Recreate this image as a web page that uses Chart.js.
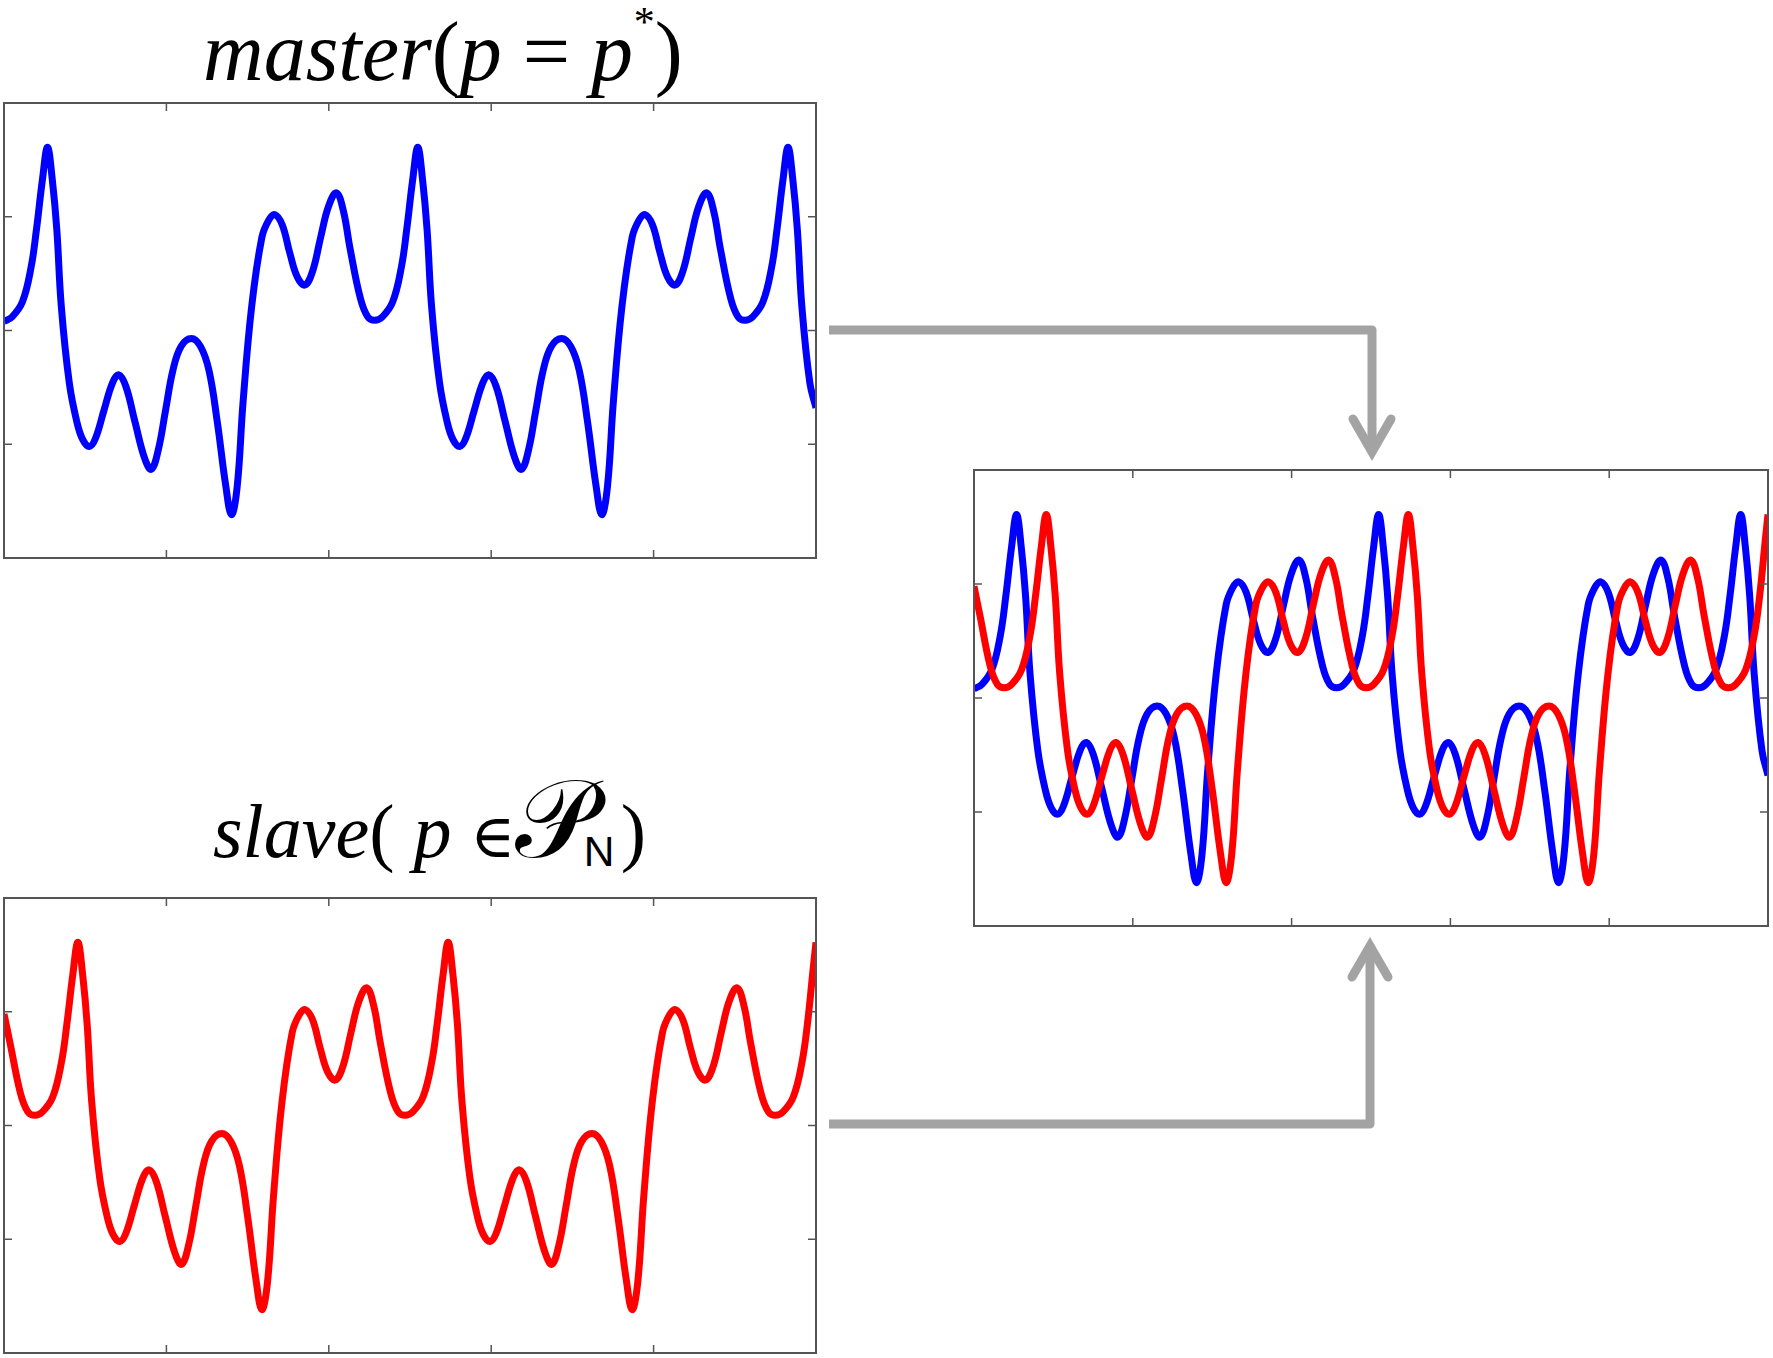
<!DOCTYPE html>
<html>
<head>
<meta charset="utf-8">
<script src="https://cdn.jsdelivr.net/npm/chart.js@4.4.0/dist/chart.umd.min.js"></script>
<style>
  html, body { margin: 0; padding: 0; background: #fff; }
  #page { position: relative; width: 1773px; height: 1358px; overflow: hidden; }
  canvas { position: absolute; }
  .title {
    position: absolute; white-space: nowrap; line-height: 1;
    font-family: "Liberation Serif", "DejaVu Serif", serif; font-style: italic; color: #000;
  }
  .title .par { font-style: normal; }
  .title .eq { font-style: normal; }
  .title sup { font-size: 0.5em; line-height: 0; position: relative; top: -1.05em; vertical-align: baseline; margin-left: 0.02em; font-style: normal; }
  .title .up { font-style: normal; font-family: "DejaVu Serif", serif; font-size: 0.8em; }
  .title .scr { font-style: normal; font-family: "DejaVu Sans", "DejaVu Serif", serif; font-size: 1.45em; line-height: 0; }
  .title .sub { font-style: normal; font-family: "Liberation Sans", sans-serif; font-size: 0.56em; line-height: 0; position: relative; top: 0.2em; margin-left: -0.25em; }
  .title .close { margin-left: 0.08em; }
  #arrows { position: absolute; left: 0; top: 0; }
</style>
</head>
<body>
<div id="page">
  <div class="title" style="left:203px; top:10px; font-size:84px;">master<span class="par">(</span>p<span class="eq"> = </span>p<sup>*</sup><span class="par">)</span></div>
  <div class="title" style="left:213px; top:793px; font-size:76px;">slave<span class="par">(</span> p <span class="up">∈</span><span class="scr">𝒫</span><span class="sub">N</span><span class="par close">)</span></div>

  <svg id="arrows" width="1773" height="1358">
    <g fill="none" stroke="#a3a3a3" stroke-width="9">
      <path d="M829 330 H1372 V450" stroke-linejoin="round"/>
      <path d="M1353 419 L1372 452 L1391 419" stroke-linecap="round" stroke-linejoin="miter"/>
      <path d="M829 1124 H1370 V948" stroke-linejoin="round"/>
      <path d="M1352 977 L1370 946 L1388 977" stroke-linecap="round" stroke-linejoin="miter"/>
    </g>
  </svg>

  <canvas id="chart-master" width="824" height="467" style="left:-2px; top:97px;"></canvas>
  <canvas id="chart-slave" width="824" height="467" style="left:-2px; top:892px;"></canvas>
  <canvas id="chart-sync" width="806" height="468" style="left:968px; top:464px;"></canvas>
</div>

<script>
// master signal (blue)
const masterX = [
  0.000, 0.050, 0.113, 0.166, 0.200, 0.237, 0.268,
  0.297, 0.325, 0.353, 0.402, 0.448, 0.485, 0.526, 0.563, 0.616, 0.668,
  0.706, 0.750, 0.806, 0.865, 0.907, 0.950, 0.995, 1.040, 1.090, 1.154,
  1.210, 1.262, 1.313, 1.366, 1.401, 1.436, 1.472, 1.525, 1.588, 1.630,
  1.666, 1.713, 1.760, 1.806, 1.853, 1.900, 1.950, 1.998, 2.047, 2.090,
  2.131, 2.195, 2.240, 2.283, 2.330, 2.393, 2.446, 2.480, 2.517, 2.548,
  2.577, 2.605, 2.633, 2.682, 2.728, 2.765, 2.806, 2.843, 2.896, 2.948,
  2.986, 3.030, 3.086, 3.145, 3.187, 3.230, 3.275, 3.320, 3.370, 3.434,
  3.490, 3.542, 3.593, 3.646, 3.681, 3.716, 3.752, 3.805, 3.868, 3.910,
  3.946, 3.993, 4.040, 4.086, 4.133, 4.180, 4.230, 4.278, 4.327, 4.370,
  4.411, 4.475, 4.520, 4.563, 4.610, 4.673, 4.726, 4.760, 4.797, 4.828,
  4.857, 4.885, 4.913, 4.962, 5.000
];
const masterY = [
  0.08, 0.12, 0.25, 0.55, 0.89, 1.33, 1.61,
  1.33, 0.89, 0.21, -0.46, -0.80, -0.96, -1.02, -0.95, -0.70, -0.46,
  -0.39, -0.49, -0.80, -1.12, -1.22, -1.05, -0.70, -0.35, -0.14, -0.07,
  -0.14, -0.35, -0.80, -1.37, -1.62, -1.37, -0.63, 0.21, 0.82, 0.97,
  1.02, 0.93, 0.68, 0.47, 0.40, 0.52, 0.82, 1.09, 1.21, 1.05,
  0.72, 0.28, 0.12, 0.09, 0.12, 0.25, 0.55, 0.89, 1.33, 1.61,
  1.33, 0.89, 0.21, -0.46, -0.80, -0.96, -1.02, -0.95, -0.70, -0.46,
  -0.39, -0.49, -0.80, -1.12, -1.22, -1.05, -0.70, -0.35, -0.14, -0.07,
  -0.14, -0.35, -0.80, -1.37, -1.62, -1.37, -0.63, 0.21, 0.82, 0.97,
  1.02, 0.93, 0.68, 0.47, 0.40, 0.52, 0.82, 1.09, 1.21, 1.05,
  0.72, 0.28, 0.12, 0.09, 0.12, 0.25, 0.55, 0.89, 1.33, 1.61,
  1.33, 0.89, 0.21, -0.46, -0.68
];

// slave signal (red)
const slaveX = [
  0.000, 0.038, 0.102, 0.147, 0.190, 0.237, 0.300, 0.353, 0.387, 0.424, 0.455,
  0.484, 0.512, 0.540, 0.589, 0.635, 0.672, 0.713, 0.750, 0.803, 0.855,
  0.893, 0.937, 0.993, 1.052, 1.094, 1.137, 1.182, 1.227, 1.277, 1.341,
  1.397, 1.449, 1.500, 1.553, 1.588, 1.623, 1.659, 1.712, 1.775, 1.817,
  1.853, 1.900, 1.947, 1.993, 2.040, 2.087, 2.137, 2.185, 2.234, 2.277,
  2.318, 2.382, 2.427, 2.470, 2.517, 2.580, 2.633, 2.667, 2.704, 2.735,
  2.764, 2.792, 2.820, 2.869, 2.915, 2.952, 2.993, 3.030, 3.083, 3.135,
  3.173, 3.217, 3.273, 3.332, 3.374, 3.417, 3.462, 3.507, 3.557, 3.621,
  3.677, 3.729, 3.780, 3.833, 3.868, 3.903, 3.939, 3.992, 4.055, 4.097,
  4.133, 4.180, 4.227, 4.273, 4.320, 4.367, 4.417, 4.465, 4.514, 4.557,
  4.598, 4.662, 4.707, 4.750, 4.797, 4.860, 4.913, 4.947, 4.984, 5.000
];
const slaveY = [
  0.98, 0.72, 0.28, 0.12, 0.09, 0.12, 0.25, 0.55, 0.89, 1.33, 1.61,
  1.33, 0.89, 0.21, -0.46, -0.80, -0.96, -1.02, -0.95, -0.70, -0.46,
  -0.39, -0.49, -0.80, -1.12, -1.22, -1.05, -0.70, -0.35, -0.14, -0.07,
  -0.14, -0.35, -0.80, -1.37, -1.62, -1.37, -0.63, 0.21, 0.82, 0.97,
  1.02, 0.93, 0.68, 0.47, 0.40, 0.52, 0.82, 1.09, 1.21, 1.05,
  0.72, 0.28, 0.12, 0.09, 0.12, 0.25, 0.55, 0.89, 1.33, 1.61,
  1.33, 0.89, 0.21, -0.46, -0.80, -0.96, -1.02, -0.95, -0.70, -0.46,
  -0.39, -0.49, -0.80, -1.12, -1.22, -1.05, -0.70, -0.35, -0.14, -0.07,
  -0.14, -0.35, -0.80, -1.37, -1.62, -1.37, -0.63, 0.21, 0.82, 0.97,
  1.02, 0.93, 0.68, 0.47, 0.40, 0.52, 0.82, 1.09, 1.21, 1.05,
  0.72, 0.28, 0.12, 0.09, 0.12, 0.25, 0.55, 0.89, 1.40, 1.61
];

// unlabeled tick positions (MATLAB style box axes)
const xTicks = [1, 2, 3, 4];
const yTicks = [-1, 0, 1];

const points = (xs, ys) => xs.map((x, i) => ({ x: x, y: ys[i] }));

// frame + inward ticks on all four sides
const boxAxes = {
  id: 'boxAxes',
  afterDraw(chart) {
    const { ctx, chartArea: a, scales } = chart;
    const len = 8;
    ctx.save();
    ctx.strokeStyle = '#555';
    ctx.lineWidth = 2;
    ctx.strokeRect(a.left, a.top, a.right - a.left, a.bottom - a.top);
    ctx.lineWidth = 1.5;
    ctx.beginPath();
    xTicks.forEach(v => {
      const px = scales.x.getPixelForValue(v);
      ctx.moveTo(px, a.top); ctx.lineTo(px, a.top + len);
      ctx.moveTo(px, a.bottom); ctx.lineTo(px, a.bottom - len);
    });
    yTicks.forEach(v => {
      const py = scales.y.getPixelForValue(v);
      ctx.moveTo(a.left, py); ctx.lineTo(a.left + len, py);
      ctx.moveTo(a.right, py); ctx.lineTo(a.right - len, py);
    });
    ctx.stroke();
    ctx.restore();
  }
};

function signalChart(id, datasets) {
  return new Chart(document.getElementById(id).getContext('2d'), {
    type: 'line',
    data: { datasets: datasets },
    options: {
      responsive: false,
      animation: false,
      events: [],
      layout: { padding: { left: 6, top: 6, right: 6, bottom: 6 } },
      plugins: { legend: { display: false }, tooltip: { enabled: false } },
      scales: {
        x: { type: 'linear', min: 0, max: 5, display: false },
        y: { type: 'linear', min: -2, max: 2, display: false }
      },
      elements: {
        point: { radius: 0 },
        line: { borderWidth: 7, tension: 0.4, borderJoinStyle: 'round' }
      }
    },
    plugins: [boxAxes]
  });
}

const master = () => ({ label: 'master', data: points(masterX, masterY), borderColor: '#0000ff', clip: 0 });
const slave = () => ({ label: 'slave', data: points(slaveX, slaveY), borderColor: '#ff0000', clip: 0 });

// top: master alone
signalChart('chart-master', [master()]);

// bottom: slave alone
signalChart('chart-slave', [slave()]);

// right: both overlaid, red underneath blue
signalChart('chart-sync', [slave(), master()]);
</script>
</body>
</html>
